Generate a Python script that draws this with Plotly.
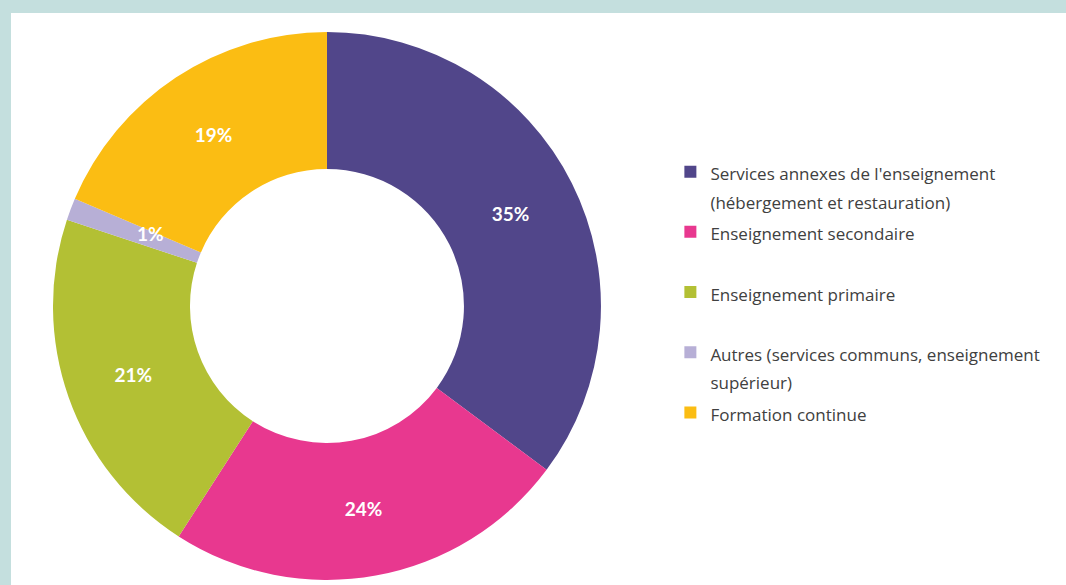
import math
import plotly.graph_objects as go

# Répartition par secteur
names = [
    "Services annexes de l'enseignement<br>(hébergement et restauration)",
    "Enseignement secondaire",
    "Enseignement primaire",
    "Autres (services communs, enseignement<br>supérieur)",
    "Formation continue",
]
values = [35.2, 23.9, 21.0, 1.3, 18.6]
colors = ["#51468a", "#e8388f", "#b3c034", "#b7afd6", "#fbbd13"]

# chaque entrée de légende sur 2 lignes -> espacement régulier
labels = []
for n in names:
    lines = n.split("<br>")
    body = "<br>".join(f"<span style='font-size:17px'>{l}</span>" for l in lines)
    labels.append(body + "<br> " * (2 - len(lines)))

small = values.index(min(values))
textpos = ['none' if i == small else 'inside' for i in range(len(values))]

dom_x = [0.0398, 0.5592]
dom_y = [0.0087, 0.9668]
W, H = 1066, 585
ml, mt = 11, 13

fig = go.Figure(go.Pie(
    labels=labels,
    values=values,
    hole=0.5,
    sort=False,
    direction='clockwise',
    rotation=0,
    marker=dict(colors=colors, line=dict(width=0)),
    texttemplate="<b>%{percent:.0%}</b>",
    textposition=textpos,
    insidetextorientation='horizontal',
    textfont=dict(family="Lato", size=19, color="white"),
    domain=dict(x=dom_x, y=dom_y),
    hoverinfo='label+percent',
))

# étiquette du petit secteur (1%), placée au milieu de l'anneau
pw, ph = W - ml, H - mt
rad = min((dom_x[1] - dom_x[0]) * pw, (dom_y[1] - dom_y[0]) * ph) / 2
total = sum(values)
frac = (sum(values[:small]) + values[small] / 2) / total
ang = 2 * math.pi * frac
r_mid = rad * 0.75
cx, cy = sum(dom_x) / 2, sum(dom_y) / 2
fig.add_annotation(
    x=cx + r_mid * math.sin(ang) / pw,
    y=cy + r_mid * math.cos(ang) / ph,
    xref='paper', yref='paper', showarrow=False,
    text=f"<b>{round(values[small] / total * 100)}%</b>",
    font=dict(family="Lato", size=19, color="white"),
)

fig.update_layout(
    width=W,
    height=H,
    margin=dict(l=ml, t=mt, r=0, b=0),
    paper_bgcolor="#c4dfde",
    shapes=[dict(type='rect', xref='paper', yref='paper', x0=0, x1=1, y0=0, y1=1,
                 fillcolor='white', line=dict(width=0), layer='below')],
    legend=dict(
        x=0.625, y=0.759, xanchor='left', yanchor='top', valign='top',
        font=dict(family="Open Sans", size=22, color="#404040"),
        bgcolor='rgba(0,0,0,0)',
    ),
)

fig.write_html("out.html", config={'displayModeBar': False},
               post_script="document.body.style.margin='0';")
